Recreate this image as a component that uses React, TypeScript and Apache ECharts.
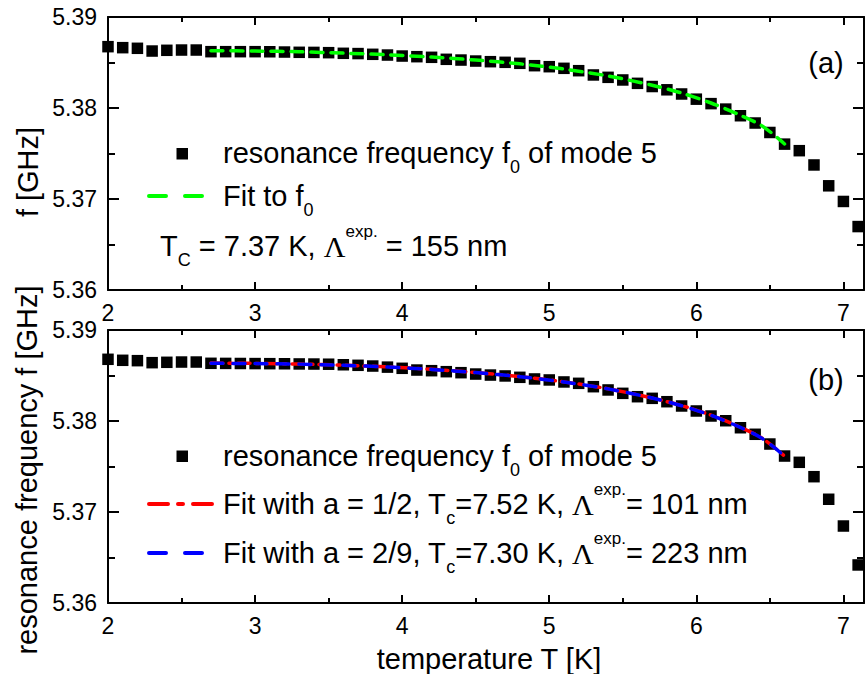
import React, { useEffect, useRef } from 'react';
import * as echarts from 'echarts';

const FONT = "'Liberation Sans', Arial, Helvetica, sans-serif";
const SERIF = "'Liberation Serif', 'Times New Roman', serif";

// temperature T [K]
const temperatureT = [
  2.0, 2.1, 2.2, 2.3, 2.4, 2.5, 2.6, 2.7, 2.8, 2.9,
  3.0, 3.1, 3.2, 3.3, 3.4, 3.5, 3.6, 3.7, 3.8, 3.9,
  4.0, 4.1, 4.2, 4.3, 4.4, 4.5, 4.6, 4.7, 4.8, 4.9,
  5.0, 5.1, 5.2, 5.3, 5.4, 5.5, 5.6, 5.7, 5.8, 5.9,
  6.0, 6.1, 6.2, 6.3, 6.4, 6.5, 6.6, 6.7, 6.8, 6.9,
  7.0, 7.1,
];

// panel (a): resonance frequency f0 of mode 5 [GHz]
const freqA = [
  5.38674, 5.38663, 5.38656, 5.38626, 5.38634, 5.38637, 5.38637, 5.38619, 5.38619, 5.38619,
  5.38619, 5.38618, 5.38615, 5.38612, 5.38611, 5.38608, 5.38601, 5.38598, 5.3859, 5.38582,
  5.38571, 5.38564, 5.38557, 5.38535, 5.38527, 5.38516, 5.38509, 5.38502, 5.38491, 5.38465,
  5.38454, 5.38436, 5.3841, 5.38363, 5.38337, 5.38308, 5.38271, 5.38236, 5.382, 5.38154,
  5.38097, 5.38048, 5.37988, 5.37915, 5.37835, 5.37731, 5.37603, 5.37531, 5.37374, 5.37145,
  5.36973, 5.36697,
];

// panel (b): resonance frequency f0 of mode 5 [GHz]
const freqB = [
  5.38678, 5.38667, 5.38663, 5.38641, 5.38645, 5.38648, 5.38648, 5.38634, 5.38633, 5.38632,
  5.38631, 5.3863, 5.38629, 5.38627, 5.38626, 5.38624, 5.38618, 5.38612, 5.38604, 5.38592,
  5.38579, 5.3856, 5.38553, 5.38542, 5.38531, 5.38516, 5.38505, 5.38495, 5.3848, 5.38462,
  5.38451, 5.38429, 5.38414, 5.38377, 5.38341, 5.38304, 5.38267, 5.38249, 5.38212, 5.38165,
  5.3811, 5.38055, 5.38003, 5.37926, 5.37854, 5.37747, 5.37615, 5.37546, 5.37388, 5.3714,
  5.36846, 5.36418,
];

// fit curves
const fitT = [2.7, 3.0, 3.3, 3.6, 3.9, 4.2, 4.5, 4.8, 5.1, 5.4, 5.7, 5.9, 6.1, 6.3, 6.45, 6.6];
const fitA = [
  5.3863, 5.38626, 5.38618, 5.38603, 5.38585, 5.3856, 5.38527, 5.38485,
  5.38428, 5.38352, 5.3825, 5.38165, 5.38055, 5.3792, 5.378, 5.37605,
];
const fitHalf = [
  5.38636, 5.38633, 5.38626, 5.38613, 5.38594, 5.38568, 5.38533, 5.38488,
  5.3843, 5.38354, 5.38253, 5.38169, 5.38064, 5.37931, 5.37808, 5.37615,
];
const fitTwoNinths = [
  5.38634, 5.38631, 5.38625, 5.38612, 5.38593, 5.38567, 5.38532, 5.38487,
  5.38429, 5.38353, 5.38252, 5.38168, 5.38062, 5.37929, 5.37806, 5.37614,
];

const xMajorTicks = [2, 3, 4, 5, 6, 7];
const xMinorTicks = [2.5, 3.5, 4.5, 5.5, 6.5];
const yMajorTicks = [5.36, 5.37, 5.38, 5.39];
const yMinorTicks = [5.365, 5.375, 5.385];

const X_MIN = 2;
const X_MAX = 7.14;
const Y_MIN = 5.36;
const Y_MAX = 5.39;

function zip(xs: number[], ys: number[]) {
  return xs.map((x, i) => [x, ys[i]]);
}

function makeX(grid: number, position: string, ticks: number[], len: number, line: boolean, label: boolean) {
  return {
    type: 'value',
    gridIndex: grid,
    position,
    min: X_MIN,
    max: X_MAX,
    axisLine: { show: line, onZero: false, lineStyle: { color: '#000', width: 2 } },
    axisTick: {
      show: true,
      inside: true,
      length: len,
      customValues: ticks,
      lineStyle: { color: '#000', width: 2 },
    },
    axisLabel: {
      show: label,
      customValues: xMajorTicks,
      formatter: (v: number) => String(Math.round(v)),
      fontSize: 23,
      fontFamily: FONT,
      color: '#000',
      margin: 11,
    },
    splitLine: { show: false },
  };
}

function makeY(grid: number, position: string, ticks: number[], len: number, line: boolean, label: boolean) {
  return {
    type: 'value',
    gridIndex: grid,
    position,
    min: Y_MIN,
    max: Y_MAX,
    axisLine: { show: line, onZero: false, lineStyle: { color: '#000', width: 2 } },
    axisTick: {
      show: true,
      inside: true,
      length: len,
      customValues: ticks,
      lineStyle: { color: '#000', width: 2 },
    },
    axisLabel: {
      show: label,
      customValues: yMajorTicks,
      formatter: (v: number) => v.toFixed(2),
      fontSize: 23,
      fontFamily: FONT,
      color: '#000',
      margin: 11,
    },
    splitLine: { show: false },
  };
}

function axesForGrid(g: number) {
  return {
    x: [
      makeX(g, 'bottom', xMajorTicks, 8, true, true),
      makeX(g, 'bottom', xMinorTicks, 5, false, false),
      makeX(g, 'top', xMajorTicks, 8, true, false),
      makeX(g, 'top', xMinorTicks, 5, false, false),
    ],
    y: [
      makeY(g, 'left', yMajorTicks, 11, true, true),
      makeY(g, 'left', yMinorTicks, 7, false, false),
      makeY(g, 'right', yMajorTicks, 11, true, false),
      makeY(g, 'right', yMinorTicks, 7, false, false),
    ],
  };
}

const richStyles = {
  n: { fontSize: 29, fontFamily: FONT, fill: '#000', lineHeight: 46 },
  sub: { fontSize: 18, fontFamily: FONT, fill: '#000', lineHeight: 18, verticalAlign: 'bottom' },
  sup: { fontSize: 17, fontFamily: FONT, fill: '#000', lineHeight: 22, verticalAlign: 'top' },
  L: { fontSize: 30, fontFamily: SERIF, fill: '#000', lineHeight: 46 },
};

function richText(x: number, y: number, text: string) {
  return {
    type: 'text',
    x,
    y,
    style: {
      text,
      rich: richStyles,
      fontSize: 29,
      fontFamily: FONT,
      fill: '#000',
      align: 'left',
      verticalAlign: 'middle',
    },
  };
}

function plainText(x: number, y: number, text: string, rotation = 0) {
  return {
    type: 'text',
    x,
    y,
    rotation,
    style: {
      text,
      fontSize: 29,
      fontFamily: FONT,
      fill: '#000',
      align: 'center',
      verticalAlign: 'middle',
    },
  };
}

const GREEN = '#00ff00';
const RED = '#ff0000';
const BLUE = '#0000ff';

export default function App() {
  const ref = useRef<HTMLDivElement>(null);

  useEffect(() => {
    document.body.style.margin = '0';
    if (!ref.current) return;
    const chart = echarts.init(ref.current, undefined, { renderer: 'svg' });
    const a0 = axesForGrid(0);
    const a1 = axesForGrid(1);

    const option: any = {
      animation: false,
      backgroundColor: '#fff',
      grid: [
        { left: 108, top: 17, width: 756, height: 273 },
        { left: 108, top: 330, width: 756, height: 273 },
      ],
      xAxis: [...a0.x, ...a1.x],
      yAxis: [...a0.y, ...a1.y],
      series: [
        {
          type: 'scatter',
          xAxisIndex: 0,
          yAxisIndex: 0,
          data: zip(temperatureT, freqA),
          symbol: 'rect',
          symbolSize: 11.5,
          itemStyle: { color: '#000', opacity: 1 },
          z: 2,
        },
        {
          type: 'line',
          xAxisIndex: 0,
          yAxisIndex: 0,
          data: zip(fitT, fitA),
          smooth: 0.3,
          showSymbol: false,
          symbol: 'none',
          lineStyle: { color: GREEN, width: 3.5, type: [12, 8], cap: 'round' },
          z: 3,
        },
        {
          type: 'scatter',
          xAxisIndex: 4,
          yAxisIndex: 4,
          data: zip(temperatureT, freqB),
          symbol: 'rect',
          symbolSize: 11.5,
          itemStyle: { color: '#000', opacity: 1 },
          z: 2,
        },
        {
          type: 'line',
          xAxisIndex: 4,
          yAxisIndex: 4,
          data: zip(fitT, fitHalf),
          smooth: 0.3,
          showSymbol: false,
          symbol: 'none',
          lineStyle: { color: RED, width: 3.5, type: [12, 6, 3, 6], cap: 'round' },
          z: 3,
        },
        {
          type: 'line',
          xAxisIndex: 4,
          yAxisIndex: 4,
          data: zip(fitT, fitTwoNinths),
          smooth: 0.3,
          showSymbol: false,
          symbol: 'none',
          lineStyle: { color: BLUE, width: 3.5, type: [12, 10], cap: 'round' },
          z: 4,
        },
      ],
      graphic: [
        // axis titles
        plainText(28, 172, 'f [GHz]', Math.PI / 2),
        plainText(27, 470, 'resonance frequency f [GHz]', Math.PI / 2),
        plainText(489, 659, 'temperature T [K]'),
        // panel labels
        plainText(826, 63, '(a)'),
        plainText(826, 380, '(b)'),
        // legend (a)
        { type: 'rect', shape: { x: 176.5, y: 148, width: 11.5, height: 11.5 }, style: { fill: '#000' } },
        richText(223, 153, '{n|resonance frequency f}{sub|0}{n| of mode 5}'),
        {
          type: 'line',
          shape: { x1: 149, y1: 196, x2: 202, y2: 196 },
          style: { stroke: GREEN, lineWidth: 4, lineDash: [17, 19], lineCap: 'round' },
        },
        richText(223, 196, '{n|Fit to f}{sub|0}'),
        richText(160, 246, '{n|T}{sub|C}{n| = 7.37 K, }{L|Λ}{sup|exp.}{n| = 155 nm}'),
        // legend (b)
        { type: 'rect', shape: { x: 176.5, y: 450.5, width: 11.5, height: 11.5 }, style: { fill: '#000' } },
        richText(223, 456, '{n|resonance frequency f}{sub|0}{n| of mode 5}'),
        {
          type: 'line',
          shape: { x1: 149, y1: 504, x2: 212, y2: 504 },
          style: { stroke: RED, lineWidth: 4, lineDash: [19, 10, 5, 10], lineCap: 'round' },
        },
        richText(223, 504, '{n|Fit with a = 1/2, T}{sub|c}{n|=7.52 K, }{L|Λ}{sup|exp.}{n|= 101 nm}'),
        {
          type: 'line',
          shape: { x1: 149, y1: 553, x2: 202, y2: 553 },
          style: { stroke: BLUE, lineWidth: 4, lineDash: [17, 19], lineCap: 'round' },
        },
        richText(223, 553, '{n|Fit with a = 2/9, T}{sub|c}{n|=7.30 K, }{L|Λ}{sup|exp.}{n|= 223 nm}'),
      ],
    };

    chart.setOption(option);
    return () => {
      chart.dispose();
    };
  }, []);

  return <div ref={ref} style={{ width: 865, height: 674 }} />;
}
